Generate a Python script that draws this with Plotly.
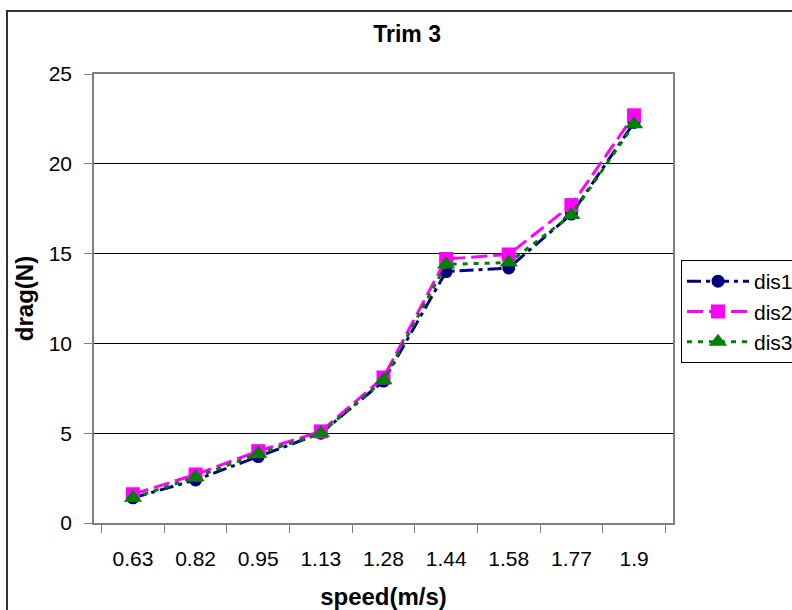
import plotly.graph_objects as go

speeds = ["0.63", "0.82", "0.95", "1.13", "1.28", "1.44", "1.58", "1.77", "1.9"]
dis1 = [1.4, 2.4, 3.7, 5.0, 7.9, 14.0, 14.2, 17.2, 22.3]
dis2 = [1.6, 2.7, 4.0, 5.1, 8.1, 14.7, 14.95, 17.7, 22.7]
dis3 = [1.4, 2.55, 3.85, 5.0, 7.95, 14.4, 14.5, 17.15, 22.2]
y_ticks = [0, 5, 10, 15, 20, 25]

FONT = "Liberation Sans, Arial, sans-serif"

fig = go.Figure()
fig.add_trace(go.Scatter(
    x=speeds, y=dis1, name="dis1", mode="lines+markers",
    line=dict(color="#000080", width=3, dash="14px,5px,4px,5px"),
    marker=dict(symbol="circle", size=13, color="#000080"),
))
fig.add_trace(go.Scatter(
    x=speeds, y=dis2, name="dis2", mode="lines+markers",
    line=dict(color="#FF00FF", width=3, dash="16px,6px"),
    marker=dict(symbol="square", size=14, color="#FF00FF"),
))
fig.add_trace(go.Scatter(
    x=speeds, y=dis3, name="dis3", mode="lines+markers",
    line=dict(color="#008000", width=3, dash="5px,6px"),
    marker=dict(symbol="triangle-up", size=16, color="#008000"),
))

fig.update_layout(
    width=792, height=610,
    margin=dict(l=94, r=119, t=74, b=87, autoexpand=False),
    paper_bgcolor="white", plot_bgcolor="white",
    font=dict(family=FONT, size=21, color="black"),
    title=dict(text="<b>Trim 3</b>", x=0.514, xref="container", xanchor="center",
               y=1 - 34 / 610, yref="container", yanchor="middle",
               font=dict(family=FONT, size=23, color="black")),
    showlegend=True,
    legend=dict(x=(681 - 94) / 579, xanchor="left", y=1 - (260 - 74) / 449, yanchor="top",
                bordercolor="black", borderwidth=1, bgcolor="white",
                font=dict(family=FONT, size=21, color="black"),
                itemwidth=62, tracegroupgap=0),
    xaxis=dict(type="category", categoryorder="array", categoryarray=speeds,
               showline=True, linecolor="#808080", linewidth=1.5, mirror=True,
               ticks="outside", tickson="boundaries", ticklen=8, tickcolor="#808080",
               showgrid=False, zeroline=False,
               tickfont=dict(family=FONT, size=21, color="black"),
               ticklabelstandoff=16,
               title=dict(text="<b>speed(m/s)</b>", standoff=20,
                          font=dict(family=FONT, size=24, color="black"))),
    yaxis=dict(range=[0, 25], tickvals=y_ticks, ticktext=[str(v) for v in y_ticks],
               showline=True, linecolor="#808080", linewidth=1.5, mirror=True,
               ticks="outside", ticklen=8, tickcolor="#808080",
               showgrid=True, gridcolor="black", gridwidth=1, zeroline=False,
               tickfont=dict(family=FONT, size=21, color="black"),
               ticklabelstandoff=8,
               title=dict(text="<b>drag(N)</b>", standoff=8,
                          font=dict(family=FONT, size=24, color="black"))),
    shapes=[dict(type="rect", xref="paper", yref="paper",
                 x0=(7 - 94) / 579, x1=1.5, y0=-0.5, y1=(523 - 11) / 449,
                 line=dict(color="#333333", width=2), layer="below")],
)

fig.write_html("out.html")
